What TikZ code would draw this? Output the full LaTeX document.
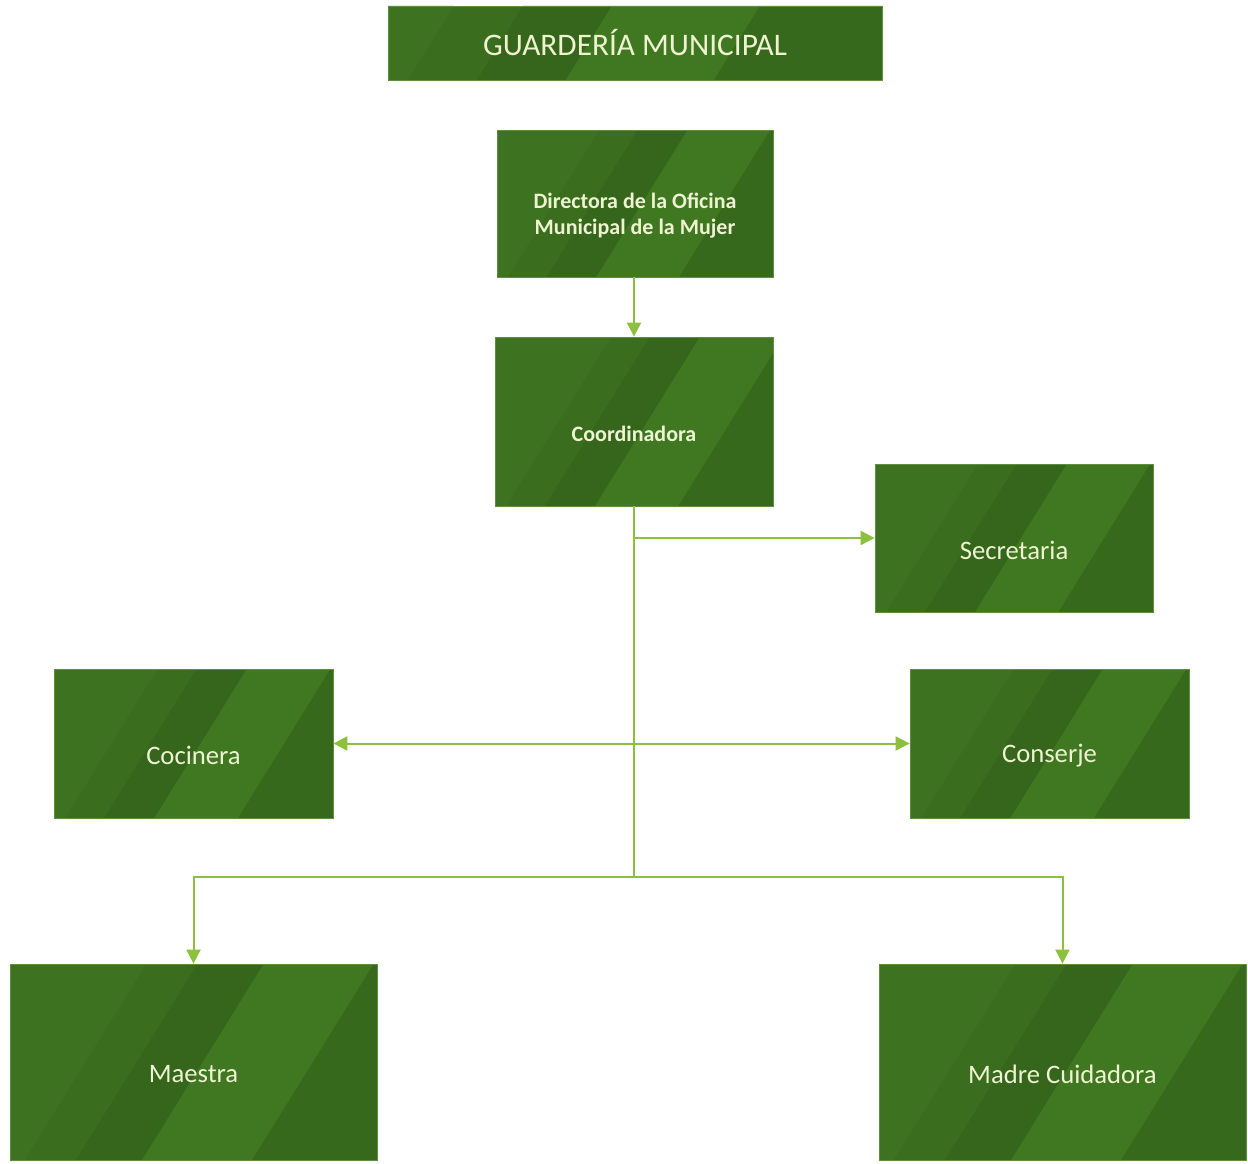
\documentclass[tikz,border=0pt]{standalone}
\usepackage{fontspec}
\setmainfont{Carlito}
\usetikzlibrary{arrows.meta}

\definecolor{boxbase}{HTML}{3A6D1E}
\definecolor{boxleft}{HTML}{3D7320}
\definecolor{boxdark}{HTML}{35661B}
\definecolor{boxlight}{HTML}{407821}
\definecolor{boxright}{HTML}{37691C}
\definecolor{boxedge}{HTML}{5E8E3E}
\definecolor{linkgreen}{HTML}{8DC03F}
\definecolor{labeltext}{HTML}{EEF3D2}

% one diagonal band: left, bottom, width, height, edge fractions a/b, colour
\newcommand\gband[7]{%
  \fill[#7] ({#1+#5*#3},#2) -- ({#1+#6*#3},#2) -- ({#1+#6*#3+0.62*#4},{#2-#4})
    -- ({#1+#5*#3+0.62*#4},{#2-#4}) -- cycle;}

% shaded green box: name, centre x, centre y, width, height, label style, text
\newcommand\orgbox[7]{%
  \begin{scope}
    \clip ({#2-#4/2},{#3-#5/2}) rectangle ({#2+#4/2},{#3+#5/2});
    \fill[boxbase] ({#2-#4/2},{#3-#5/2}) rectangle ({#2+#4/2},{#3+#5/2});
    \gband{#2-#4/2}{#3+#5/2}{#4}{#5}{-3}{0.04}{boxleft}
    \gband{#2-#4/2}{#3+#5/2}{#4}{#5}{0.18}{0.36}{boxdark}
    \gband{#2-#4/2}{#3+#5/2}{#4}{#5}{0.36}{0.66}{boxlight}
    \gband{#2-#4/2}{#3+#5/2}{#4}{#5}{0.66}{3}{boxright}
  \end{scope}
  \node[boxframe={#4}{#5}, label={[#6]center:#7}] (#1) at (#2,#3) {};}

\tikzset{
  boxframe/.style 2 args={rectangle, inner sep=0pt,
    minimum width=#1*0.75pt, minimum height=#2*0.75pt,
    draw=boxedge, line width=0.6pt},
  titletext/.style={text=labeltext, font=\fontsize{23.5pt}{28pt}\selectfont},
  boxtext/.style={text=labeltext, font=\fontsize{20pt}{24pt}\selectfont,
    align=center, yshift=-9pt},
  boldtext/.style={boxtext, font=\fontsize{16.5pt}{20pt}\selectfont\bfseries},
  link/.style={draw=linkgreen, line width=1.5pt},
  arrowlink/.style={link, -{Triangle[length=10.5pt,width=10.5pt]}},
  twolink/.style={link, {Triangle[length=10.5pt,width=10.5pt]}-{Triangle[length=10.5pt,width=10.5pt]}},
}

\begin{document}
\begin{tikzpicture}[x=0.75pt, y=-0.75pt]
  \fill[white] (0,0) rectangle (1248,1163);
  \useasboundingbox (0,0) rectangle (1248,1163);

  % header
  \orgbox{title}{635}{43}{494}{74}{titletext}{GUARDERÍA MUNICIPAL}

  % hierarchy
  \orgbox{dir}{635}{203.5}{276}{147}{boldtext}{Directora de la Oficina\\Municipal de la Mujer}
  \orgbox{coord}{634}{421.5}{278}{169}{boldtext}{Coordinadora}
  \orgbox{sec}{1014}{538}{278}{148}{boxtext}{Secretaria}
  \orgbox{coc}{193.5}{743.5}{279}{149}{boxtext}{Cocinera}
  \orgbox{con}{1049.5}{743.5}{279}{149}{boxtext}{Conserje}
  \orgbox{mae}{193.5}{1062}{367}{196}{boxtext}{Maestra}
  \orgbox{mad}{1062.5}{1062}{367}{196}{boxtext}{Madre Cuidadora}

  % connectors
  \coordinate (trunk) at (634,877);
  \draw[arrowlink] (dir.south -| coord.south) -- (coord.north);
  \draw[link] (coord.south) -- (trunk);
  \draw[arrowlink] (coord.south |- sec.west) -- (sec.west);
  \draw[twolink] (coc.east) -- (con.west);
  \draw[arrowlink] (trunk) -| (mae.north);
  \draw[arrowlink] (trunk) -| (mad.north);
\end{tikzpicture}
\end{document}
